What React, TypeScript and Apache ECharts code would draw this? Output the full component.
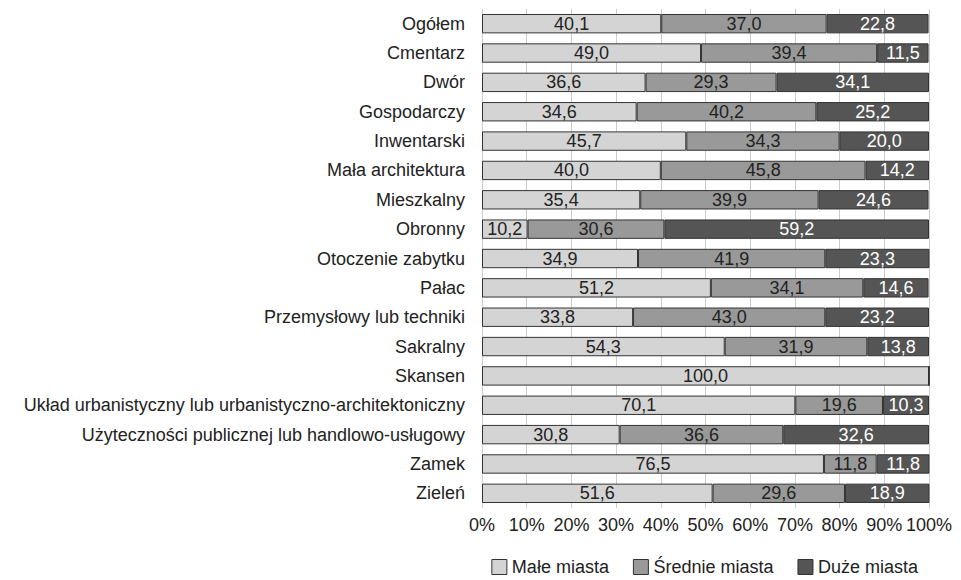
import React, { useEffect, useRef } from "react";
import * as echarts from "echarts";

const categories = [
  "Ogółem",
  "Cmentarz",
  "Dwór",
  "Gospodarczy",
  "Inwentarski",
  "Mała architektura",
  "Mieszkalny",
  "Obronny",
  "Otoczenie zabytku",
  "Pałac",
  "Przemysłowy lub techniki",
  "Sakralny",
  "Skansen",
  "Układ urbanistyczny lub urbanistyczno-architektoniczny",
  "Użyteczności publicznej lub handlowo-usługowy",
  "Zamek",
  "Zieleń",
];

const smallCities = [40.1, 49.0, 36.6, 34.6, 45.7, 40.0, 35.4, 10.2, 34.9, 51.2, 33.8, 54.3, 100.0, 70.1, 30.8, 76.5, 51.6];
const mediumCities = [37.0, 39.4, 29.3, 40.2, 34.3, 45.8, 39.9, 30.6, 41.9, 34.1, 43.0, 31.9, 0, 19.6, 36.6, 11.8, 29.6];
const largeCities = [22.8, 11.5, 34.1, 25.2, 20.0, 14.2, 24.6, 59.2, 23.3, 14.6, 23.2, 13.8, 0, 10.3, 32.6, 11.8, 18.9];

const seriesNames = ["Małe miasta", "Średnie miasta", "Duże miasta"];
const xTicks = [0, 10, 20, 30, 40, 50, 60, 70, 80, 90, 100];

const fmt = (v: number) => v.toFixed(1).replace(".", ",");

export default function App() {
  const ref = useRef<HTMLDivElement>(null);
  useEffect(() => {
    if (!ref.current) return;
    const chart = echarts.init(ref.current, null, { renderer: "svg" });
    const font = "Liberation Sans, Arial, sans-serif";
    const mk = (name: string, data: number[], color: string, labelColor: string) => ({
      name,
      type: "bar",
      stack: "total",
      barWidth: "66%",
      data,
      itemStyle: { color, borderColor: "#333333", borderWidth: 1 },
      label: {
        show: true,
        position: "inside",
        color: labelColor,
        fontSize: 18,
        fontFamily: font,
        formatter: (p: any) => (p.value > 0 ? fmt(p.value) : ""),
      },
    });
    chart.setOption({
      animation: false,
      textStyle: { fontFamily: font },
      grid: { left: 482, right: 32, top: 9, bottom: 72, containLabel: false },
      legend: {
        data: seriesNames,
        right: 38,
        bottom: -1,
        itemWidth: 15,
        itemHeight: 15,
        itemGap: 24,
        icon: "rect",
        itemStyle: { borderColor: "#333333", borderWidth: 1 },
        textStyle: { fontSize: 18, color: "#222", fontFamily: font },
      },
      xAxis: {
        type: "value",
        min: xTicks[0],
        max: xTicks[xTicks.length - 1],
        interval: 10,
        axisLine: { show: false },
        axisTick: { show: false },
        axisLabel: {
          fontSize: 18,
          color: "#222",
          margin: 8,
          fontFamily: font,
          formatter: (v: number) => `${v}%`,
        },
        splitLine: { show: true, lineStyle: { color: "#cccccc", width: 1 } },
      },
      yAxis: {
        type: "category",
        inverse: true,
        data: categories,
        axisLine: { show: false },
        axisTick: { show: false },
        axisLabel: { fontSize: 18, color: "#222", margin: 17, fontFamily: font },
      },
      series: [
        mk(seriesNames[0], smallCities, "#d4d4d4", "#222222"),
        mk(seriesNames[1], mediumCities, "#999999", "#222222"),
        mk(seriesNames[2], largeCities, "#555555", "#ffffff"),
      ],
    });
    return () => chart.dispose();
  }, []);
  return (
    <div
      ref={ref}
      style={{ position: "fixed", left: 0, top: 0, width: 961, height: 580, background: "#fff" }}
    />
  );
}
